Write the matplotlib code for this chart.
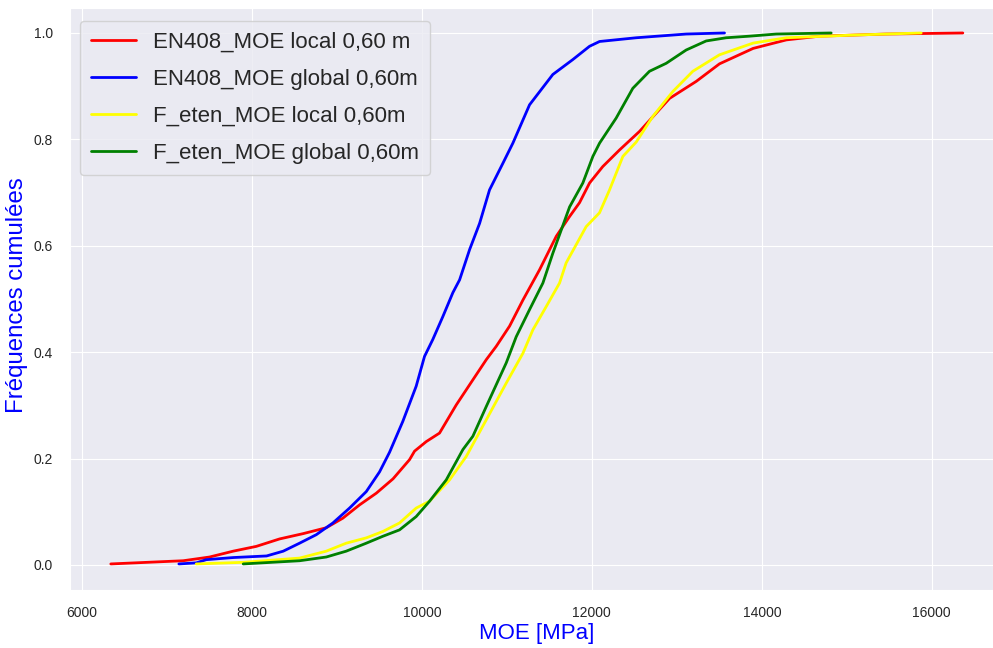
import matplotlib
matplotlib.use("Agg")
import matplotlib.pyplot as plt
import seaborn as sns

# Cumulative frequency curves (MOE [MPa], F)
en408_local_moe = [6340, 7192, 7502, 7780, 8052, 8326, 8604, 8875, 9070, 9267, 9464, 9661, 9855,
                   9914, 10052, 10208, 10405, 10600, 10758, 10875, 11032, 11189, 11385, 11582,
                   11738, 11855, 11973, 12129, 12325, 12561, 12914, 13228, 13502, 13898, 14289,
                   14679, 15463, 16365]
en408_local_f = [0.002, 0.008, 0.015, 0.026, 0.035, 0.049, 0.059, 0.070, 0.088, 0.113, 0.135, 0.162,
                 0.198, 0.214, 0.232, 0.248, 0.301, 0.348, 0.386, 0.411, 0.449, 0.498, 0.555, 0.618,
                 0.655, 0.681, 0.718, 0.749, 0.780, 0.815, 0.877, 0.909, 0.942, 0.971, 0.987,
                 0.994, 0.998, 1.000]

en408_global_moe = [7141, 7345, 7463, 7780, 8173, 8369, 8561, 8758, 8953, 9149, 9346, 9502, 9620,
                    9776, 9933, 10031, 10129, 10247, 10365, 10444, 10562, 10679, 10796, 10953,
                    11071, 11267, 11541, 11776, 11973, 12091, 12522, 13110, 13561]
en408_global_f = [0.002, 0.004, 0.010, 0.014, 0.017, 0.026, 0.041, 0.057, 0.079, 0.107, 0.138, 0.175,
                  0.212, 0.270, 0.336, 0.392, 0.424, 0.467, 0.512, 0.536, 0.593, 0.642, 0.705, 0.755,
                  0.793, 0.865, 0.922, 0.950, 0.975, 0.984, 0.991, 0.998, 1.000]

feten_local_moe = [7345, 7898, 8561, 8875, 9110, 9346, 9541, 9737, 9933, 10091, 10326, 10522,
                   10758, 10993, 11189, 11306, 11464, 11620, 11698, 11933, 12090, 12208, 12365,
                   12522, 12717, 12953, 13188, 13502, 13898, 14287, 15071, 15875]
feten_local_f = [0.002, 0.005, 0.013, 0.026, 0.041, 0.051, 0.063, 0.079, 0.107, 0.120, 0.160, 0.204,
                 0.273, 0.342, 0.398, 0.442, 0.486, 0.530, 0.568, 0.636, 0.662, 0.705, 0.768,
                 0.795, 0.843, 0.890, 0.928, 0.959, 0.981, 0.991, 0.996, 1.000]

feten_global_moe = [7898, 8561, 8875, 9110, 9346, 9541, 9737, 9933, 10091, 10287, 10483, 10600,
                    10758, 10993, 11110, 11267, 11424, 11541, 11738, 11894, 12012, 12091, 12286,
                    12482, 12678, 12875, 13110, 13345, 13580, 13855, 14169, 14816]
feten_global_f = [0.002, 0.008, 0.015, 0.026, 0.041, 0.054, 0.066, 0.091, 0.120, 0.160, 0.217, 0.242,
                  0.298, 0.380, 0.429, 0.480, 0.530, 0.586, 0.673, 0.718, 0.768, 0.793, 0.840,
                  0.896, 0.928, 0.943, 0.968, 0.985, 0.991, 0.994, 0.998, 1.000]

labels = ["EN408_MOE local 0,60 m", "EN408_MOE global 0,60m",
          "F_eten_MOE local 0,60m", "F_eten_MOE global 0,60m"]
colors = ["red", "blue", "yellow", "green"]
x_ticks = [6000, 8000, 10000, 12000, 14000, 16000]
y_ticks = [0.0, 0.2, 0.4, 0.6, 0.8, 1.0]

sns.set_style("darkgrid")
plt.rcParams['font.family'] = ['Liberation Sans', 'DejaVu Sans']

fig = plt.figure(figsize=(9.93, 6.48), dpi=100)
ax = fig.add_axes([0.0705, 0.0895, 0.9295, 0.8982])

series = [(en408_local_moe, en408_local_f), (en408_global_moe, en408_global_f),
          (feten_local_moe, feten_local_f), (feten_global_moe, feten_global_f)]
for (xs, ys), lab, c in zip(series, labels, colors):
    ax.plot(xs, ys, color=c, lw=2, label=lab)

ax.set_xlim(5860, 16720)
ax.set_ylim(-0.047, 1.047)
ax.set_xticks(x_ticks)
ax.set_yticks(y_ticks)
ax.tick_params(labelsize=10, colors="#262626")
ax.tick_params(axis="x", pad=8)
ax.tick_params(axis="y", pad=9)
ax.set_xlabel("MOE [MPa]", color="blue", fontsize=16)
ax.xaxis.set_label_coords(0.506, -0.0575)
ax.set_ylabel("Fréquences cumulées", color="blue", fontsize=17.3)
ax.yaxis.set_label_coords(-0.0455, 0.507)
ax.legend(loc="upper left", bbox_to_anchor=(0.0108, 0.9777), borderaxespad=0,
          fontsize=16, handlelength=2, frameon=True, labelspacing=0.72, borderpad=0.5)

fig.savefig("out.png", dpi=100)
